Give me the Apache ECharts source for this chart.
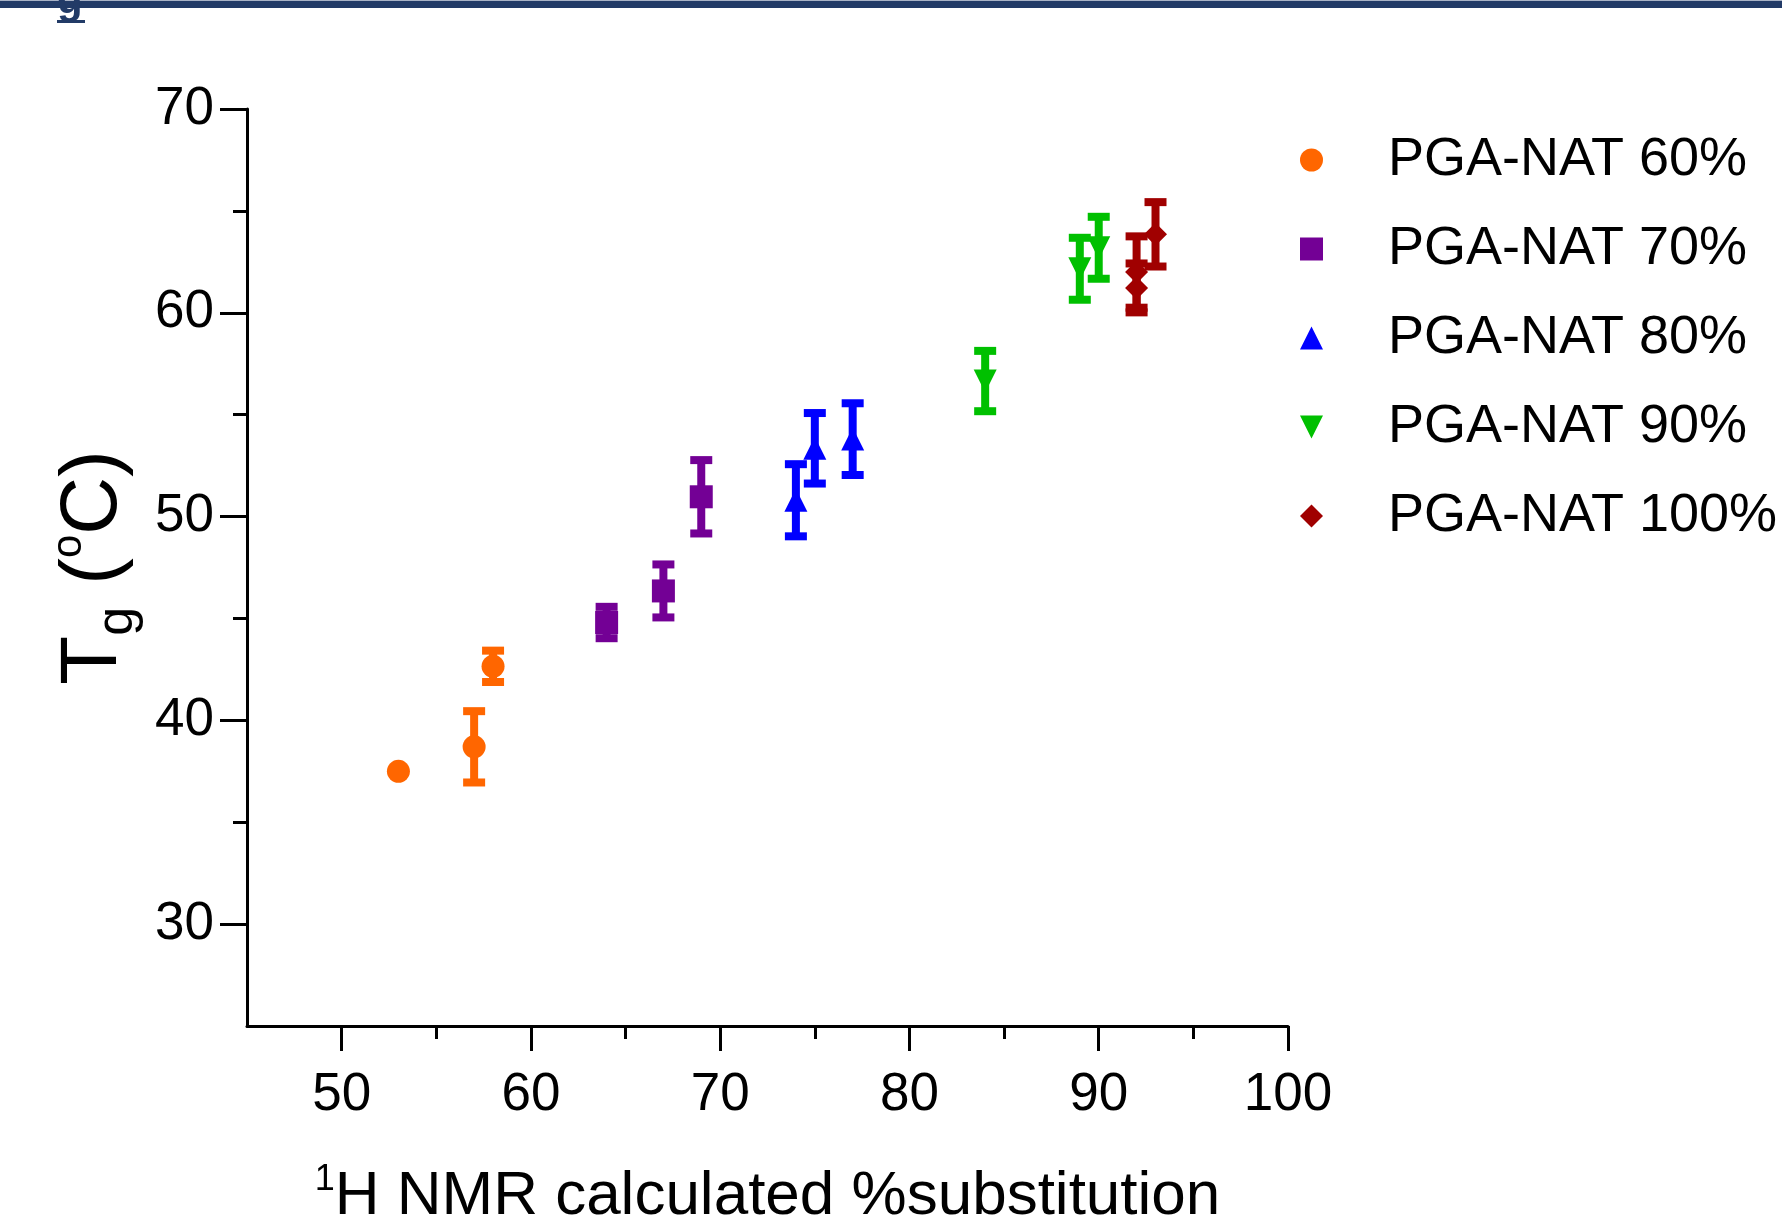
<!DOCTYPE html>
<html>
<head>
<meta charset="utf-8">
<script src="https://cdn.jsdelivr.net/npm/echarts@6/dist/echarts.min.js"></script>
<style>
  html, body { margin: 0; padding: 0; background: #fff; }
  #chart { width: 1782px; height: 1224px; }
</style>
</head>
<body>
<div id="chart"></div>
<script>
// series names / colours
const seriesNames = ['PGA-NAT 60%', 'PGA-NAT 70%', 'PGA-NAT 80%', 'PGA-NAT 90%', 'PGA-NAT 100%'];
const seriesColors = ['#ff6600', '#730095', '#0000ff', '#00c000', '#a00000'];

// [ %substitution, Tg, error ]
const pga60 = [[53, 37.5, 0], [57, 38.7, 1.75], [58, 42.65, 0.77]];
const pga70 = [[64, 44.8, 0.77], [67, 46.35, 1.3], [69, 50.97, 1.8]];
const pga80 = [[74, 50.8, 1.77], [75, 53.35, 1.73], [77, 53.8, 1.76]];
const pga90 = [[84, 56.65, 1.48], [89, 62.16, 1.52], [90, 63.19, 1.52]];
const pga100 = [[92, 62.0, 1.75], [92, 61.22, 1.2], [93, 63.85, 1.58]];

// tick labels
const xTicks = [50, 60, 70, 80, 90, 100];
const xMinorTicks = [55, 65, 75, 85, 95];
const yTicks = [30, 40, 50, 60, 70];
const yMinorTicks = [35, 45, 55, 65];

const FONT = '"Liberation Sans", Arial, sans-serif';
const allData = [pga60, pga70, pga80, pga90, pga100];
// down triangle as a path so the legend gets it too
const symbols = ['circle', 'rect', 'triangle', 'path://M0,0L10,0L5,10Z', 'diamond'];

var myChart = echarts.init(document.getElementById('chart'));

// error bars (stem + two caps)
function errorBars(color) {
    return function (params, api) {
        const x = api.value(0), y = api.value(1), e = api.value(2);
        if (!e) return { type: 'group', children: [] };
        const hi = api.coord([x, y + e]);
        const lo = api.coord([x, y - e]);
        const hw = 11;
        const style = { stroke: color, lineWidth: 8, fill: null };
        return {
            type: 'group',
            children: [
                { type: 'line', shape: { x1: hi[0], y1: hi[1], x2: lo[0], y2: lo[1] }, style: style },
                { type: 'line', shape: { x1: hi[0] - hw, y1: hi[1], x2: hi[0] + hw, y2: hi[1] }, style: style },
                { type: 'line', shape: { x1: lo[0] - hw, y1: lo[1], x2: lo[0] + hw, y2: lo[1] }, style: style }
            ]
        };
    };
}

const series = [];
allData.forEach(function (d, i) {
    series.push({
        name: 'err' + i,
        type: 'custom',
        silent: true,
        renderItem: errorBars(seriesColors[i]),
        encode: { x: 0, y: 1 },
        data: d,
        z: 2
    });
});
allData.forEach(function (d, i) {
    series.push({
        name: seriesNames[i],
        type: 'scatter',
        symbol: symbols[i],
        symbolSize: 23,
        itemStyle: { color: seriesColors[i], opacity: 1 },
        data: d.map(function (p) { return [p[0], p[1]]; }),
        z: 3
    });
});

const axisLineStyle = { color: '#000', width: 3 };

var option = {
    backgroundColor: '#fff',
    animation: false,
    grid: { left: 247, right: 494, top: 109, bottom: 198, containLabel: false, outerBoundsMode: 'none' },
    legend: {
        data: seriesNames,
        orient: 'vertical',
        left: 1300,
        top: 130,
        padding: 0,
        itemWidth: 23,
        itemHeight: 23,
        itemGap: 29,
        textStyle: { fontSize: 54, lineHeight: 60, color: '#000', fontFamily: FONT, padding: [0, 0, 0, 60] }
    },
    xAxis: [
        {
            type: 'value', min: 45, max: 100, interval: 5, position: 'bottom',
            axisLine: { show: true, lineStyle: axisLineStyle },
            axisTick: { show: true, customValues: xTicks, length: 25, lineStyle: axisLineStyle },
            axisLabel: { customValues: xTicks, fontSize: 53, color: '#000', fontFamily: FONT, margin: 43 },
            splitLine: { show: false },
            name: '{s|1}{t|H NMR calculated %substitution}',
            nameLocation: 'middle',
            nameGap: 136,
            nameTextStyle: {
                color: '#000',
                rich: {
                    s: { fontSize: 36, fontFamily: FONT, verticalAlign: 'top', color: '#000', lineHeight: 36 },
                    t: { fontSize: 62, fontFamily: FONT, color: '#000', lineHeight: 70 }
                }
            }
        },
        {
            type: 'value', min: 45, max: 100, interval: 5, position: 'bottom',
            axisLine: { show: false },
            axisTick: { show: true, customValues: xMinorTicks, length: 13, lineStyle: axisLineStyle },
            axisLabel: { show: false },
            splitLine: { show: false }
        }
    ],
    yAxis: [
        {
            type: 'value', min: 25, max: 70, interval: 5, position: 'left',
            axisLine: { show: true, lineStyle: axisLineStyle },
            axisTick: { show: true, customValues: yTicks, length: 27, lineStyle: axisLineStyle },
            axisLabel: { customValues: yTicks, fontSize: 53, color: '#000', fontFamily: FONT, margin: 33 },
            splitLine: { show: false },
            name: '{t|T}{s|g}{t| (}{u|o}{t|C)}',
            nameLocation: 'middle',
            nameRotate: 90,
            nameGap: 102,
            nameTextStyle: {
                color: '#000',
                rich: {
                    t: { fontSize: 80, fontFamily: FONT, color: '#000' },
                    s: { fontSize: 52, fontFamily: FONT, color: '#000', verticalAlign: 'bottom', lineHeight: 100 },
                    u: { fontSize: 42, fontFamily: FONT, color: '#000', verticalAlign: 'top', padding: [4, 0, 0, 0] }
                }
            }
        },
        {
            type: 'value', min: 25, max: 70, interval: 5, position: 'left',
            axisLine: { show: false },
            axisTick: { show: true, customValues: yMinorTicks, length: 14, lineStyle: axisLineStyle },
            axisLabel: { show: false },
            splitLine: { show: false }
        }
    ],
    graphic: [
        { type: 'rect', shape: { x: 0, y: 0, width: 1782, height: 8 }, style: { fill: '#223b67' } },
        { type: 'rect', shape: { x: 0, y: 0, width: 1782, height: 1 }, style: { fill: '#a9b3c6' } },
        { type: 'rect', shape: { x: 55, y: 8, width: 32, height: 13 }, style: { fill: '#fff' } },
        { type: 'text', x: 57, y: -20, style: { text: 'g', font: 'bold 42px "Liberation Sans"', fill: '#223b67', verticalAlign: 'top' } },
        { type: 'rect', shape: { x: 57, y: 20, width: 28, height: 3 }, style: { fill: '#223b67' } }
    ],
    series: series
};

myChart.setOption(option);
</script>
</body>
</html>
